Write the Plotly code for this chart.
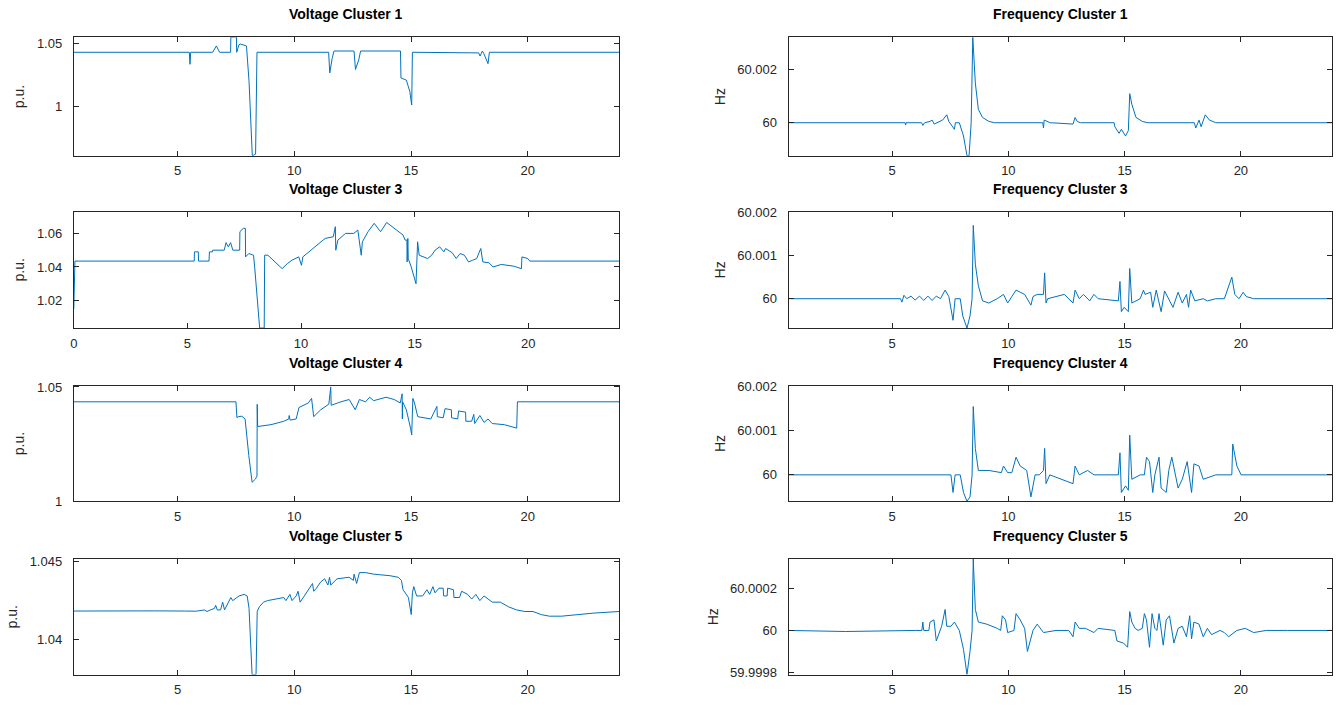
import plotly.graph_objects as go

# ---------------- data (time in hours, values) ----------------
v1_t = [0.55, 5.50, 5.53, 5.56, 6.50, 6.66, 6.80, 7.27, 7.28, 7.52, 7.53, 7.63, 7.70, 7.95, 8.06, 8.15, 8.20,
        8.34, 8.40, 11.47, 11.52, 11.62, 11.70, 12.56, 12.62, 12.76, 12.84, 14.55, 14.57, 14.80, 14.95,
        15.03, 15.06, 17.90, 17.96, 18.06, 18.12, 18.30, 18.36, 23.92]
v1_v = [1.043, 1.043, 1.0335, 1.043, 1.043, 1.048, 1.043, 1.043, 1.055, 1.055, 1.043, 1.049, 1.0495, 1.048,
        1.02, 0.975, 0.9612, 0.9625, 1.043, 1.043, 1.0267, 1.038, 1.044, 1.044, 1.0294, 1.037, 1.044, 1.044,
        1.0227, 1.021, 1.012, 1.0013, 1.043, 1.0425, 1.040, 1.044, 1.042, 1.034, 1.043, 1.043]

v3_t = [0.0, 0.05, 5.30, 5.31, 5.48, 5.49, 5.95, 5.97, 6.10, 6.11, 6.62, 6.70, 6.80, 6.90, 7.00, 7.30, 7.31,
        7.46, 7.55, 7.56, 7.70, 7.91, 7.96, 8.18, 8.38, 8.40, 8.54, 9.17, 9.40, 9.60, 9.90, 10.02, 10.08,
        10.34, 10.70, 11.06, 11.42, 11.51, 11.53, 11.62, 11.96, 12.32, 12.50, 12.65, 12.70, 12.95, 13.22,
        13.50, 13.77, 14.49, 14.58, 14.66, 14.67, 14.70, 14.72, 14.85, 15.06, 15.10, 15.13, 15.20, 15.39,
        15.57, 15.75, 15.90, 16.10, 16.29, 16.36, 16.65, 16.83, 17.00, 17.19, 17.37, 17.55, 17.73, 17.91,
        18.00, 18.27, 18.45, 18.81, 19.35, 19.70, 19.72, 19.98, 20.07, 24.0]
v3_v = [1.015, 1.0435, 1.0435, 1.049, 1.049, 1.0435, 1.0435, 1.049, 1.049, 1.050, 1.050, 1.0545, 1.052,
        1.0545, 1.050, 1.050, 1.061, 1.063, 1.063, 1.046, 1.048, 1.047, 1.040, 1.0036, 1.0036, 1.047, 1.047,
        1.039, 1.042, 1.044, 1.046, 1.041, 1.046, 1.049, 1.053, 1.057, 1.058, 1.064, 1.050, 1.056, 1.060,
        1.060, 1.062, 1.047, 1.055, 1.061, 1.066, 1.061, 1.0665, 1.059, 1.056, 1.056, 1.043, 1.057, 1.045,
        1.040, 1.030, 1.040, 1.055, 1.047, 1.046, 1.045, 1.047, 1.050, 1.052, 1.049, 1.051, 1.0485, 1.045,
        1.048, 1.047, 1.043, 1.044, 1.045, 1.051, 1.043, 1.0425, 1.040, 1.0415, 1.0405, 1.039, 1.046,
        1.045, 1.0435, 1.0435]

v4_t = [0.55, 7.50, 7.54, 7.60, 7.75, 7.89, 8.05, 8.19, 8.33, 8.40, 8.41, 8.43, 9.00, 9.55, 9.76, 9.78,
        9.82, 10.08, 10.20, 10.60, 10.74, 10.83, 11.13, 11.48, 11.56, 11.58, 12.00, 12.35, 12.44, 12.61,
        12.79, 13.05, 13.23, 13.40, 13.93, 14.28, 14.54, 14.62, 14.63, 14.64, 14.71, 14.80, 14.98, 15.03,
        15.08, 15.15, 15.29, 15.50, 15.85, 15.99, 16.11, 16.13, 16.38, 16.46, 16.73, 16.74, 17.00, 17.04,
        17.34, 17.35, 17.60, 17.69, 17.73, 17.95, 18.13, 18.30, 18.48, 19.00, 19.44, 19.53, 19.56, 23.92]
v4_v = [1.0435, 1.0435, 1.0366, 1.037, 1.0372, 1.036, 1.020, 1.0083, 1.0097, 1.0110, 1.0424, 1.0327,
        1.0335, 1.035, 1.036, 1.0375, 1.0355, 1.036, 1.041, 1.043, 1.045, 1.037, 1.040, 1.0425, 1.050,
        1.042, 1.0435, 1.0445, 1.043, 1.040, 1.0445, 1.0435, 1.0455, 1.044, 1.0455, 1.0445, 1.043, 1.047,
        1.036, 1.0435, 1.042, 1.040, 1.032, 1.029, 1.045, 1.043, 1.037, 1.0365, 1.036, 1.039, 1.0415,
        1.037, 1.0365, 1.0405, 1.040, 1.0365, 1.036, 1.0395, 1.039, 1.035, 1.035, 1.038, 1.034, 1.0375,
        1.0345, 1.036, 1.034, 1.0335, 1.0325, 1.032, 1.0435, 1.0435]

v5_t = [0.55, 2.0, 4.0, 5.3, 5.8, 6.14, 6.26, 6.40, 6.58, 6.63, 6.70, 6.84, 6.93, 7.01, 7.19, 7.28, 7.36,
        7.63, 7.85, 7.98, 8.06, 8.15, 8.19, 8.36, 8.41, 8.50, 8.68, 8.85, 9.20, 9.55, 9.64, 9.81, 9.90,
        10.08, 10.16, 10.25, 10.43, 10.78, 10.83, 10.95, 11.13, 11.30, 11.44, 11.51, 11.56, 11.83, 12.35,
        12.53, 12.56, 12.67, 12.79, 13.05, 13.40, 14.10, 14.45, 14.59, 14.66, 14.89, 15.01, 15.06, 15.12,
        15.24, 15.50, 15.68, 15.80, 15.94, 16.03, 16.20, 16.38, 16.40, 16.55, 16.57, 16.82, 16.84, 17.08,
        17.17, 17.43, 17.60, 17.78, 17.95, 18.13, 18.30, 18.48, 18.83, 19.18, 19.53, 19.88, 20.23, 20.58,
        20.93, 21.45, 22.15, 22.85, 23.92]
v5_v = [1.04183, 1.04185, 1.04184, 1.04183, 1.04182, 1.0419, 1.0418, 1.0419, 1.0420, 1.0422, 1.0419,
        1.0419, 1.0424, 1.0419, 1.0424, 1.0427, 1.0425, 1.0428, 1.0429, 1.0428, 1.0420, 1.0390, 1.03775,
        1.03775, 1.0418, 1.0421, 1.0424, 1.0425, 1.0426, 1.0427, 1.0425, 1.0429, 1.0425, 1.0428, 1.0431,
        1.0424, 1.0428, 1.0436, 1.0431, 1.0433, 1.0437, 1.0439, 1.0435, 1.0440, 1.0435, 1.0439, 1.0440,
        1.0438, 1.0442, 1.0436, 1.0443, 1.0443, 1.0442, 1.0441, 1.0440, 1.0438, 1.0432, 1.0427, 1.0416,
        1.0430, 1.0434, 1.0428, 1.0428, 1.0432, 1.0429, 1.0434, 1.0430, 1.0433, 1.0433, 1.0428, 1.0428,
        1.0433, 1.0432, 1.0427, 1.0427, 1.0431, 1.0429, 1.0426, 1.0429, 1.0425, 1.0428, 1.0426, 1.0424,
        1.0424, 1.0421, 1.0419, 1.0418, 1.0418, 1.0416, 1.0415, 1.0415, 1.0416, 1.0417, 1.0418]

f1_t = [0.55, 5.56, 5.58, 5.60, 6.27, 6.32, 6.40, 6.63, 6.72, 6.81, 7.17, 7.35, 7.44, 7.62, 7.68, 7.72,
        7.89, 8.07, 8.22, 8.31, 8.40, 8.47, 8.58, 8.71, 8.89, 9.16, 9.40, 11.48, 11.51, 11.54, 11.69, 11.80,
        12.78, 12.87, 12.96, 13.10, 14.55, 14.58, 14.76, 14.86, 15.04, 15.16, 15.22, 15.31, 15.49, 15.76,
        16.0, 18.00, 18.06, 18.20, 18.29, 18.47, 18.65, 18.92, 23.92]
f1_v = [60.0, 60.0, 59.99991, 60.0, 60.0, 59.9999, 60.0, 60.00005, 60.0001, 59.99995, 60.0001, 60.0003,
        60.00005, 59.9998, 59.99975, 60.0, 60.0, 59.9995, 59.99875, 59.99875, 60.0, 60.00323, 60.0015,
        60.0005, 60.0002, 60.00005, 60.0, 60.0, 59.9998, 60.0001, 60.00005, 60.0, 59.99995, 60.0002,
        60.00005, 60.0, 60.0, 59.99985, 59.9996, 59.99975, 59.9995, 59.9997, 60.0011, 60.0007, 60.0002,
        60.00005, 60.0, 60.0, 59.9998, 60.0001, 59.99985, 60.0003, 60.0001, 60.0, 60.0]

f3_t = [0.55, 5.36, 5.42, 5.51, 5.63, 5.81, 5.99, 6.18, 6.36, 6.54, 6.72, 6.90, 7.08, 7.28, 7.44, 7.62,
        7.71, 7.93, 8.04, 8.22, 8.35, 8.44, 8.49, 8.58, 8.71, 8.89, 9.16, 9.52, 9.79, 9.97, 10.15, 10.33,
        10.51, 10.70, 10.97, 11.06, 11.24, 11.51, 11.56, 11.62, 11.69, 12.05, 12.41, 12.78, 12.87, 13.05,
        13.23, 13.50, 13.68, 13.86, 14.58, 14.73, 14.80, 14.86, 14.98, 15.16, 15.22, 15.31, 15.49, 15.67,
        15.81, 15.88, 16.12, 16.21, 16.36, 16.48, 16.57, 16.72, 16.90, 17.08, 17.30, 17.48, 17.66, 17.75,
        17.84, 18.02, 18.38, 18.56, 18.92, 19.29, 19.61, 19.74, 19.92, 20.10, 20.23, 20.55, 23.92]
f3_v = [60.0, 60.0, 59.99992, 60.00008, 60.0, 60.00006, 59.99997, 60.00006, 59.99996, 60.00006, 59.99996,
        60.00006, 60.0, 60.0002, 60.00005, 59.9995, 60.0, 60.0, 59.9996, 59.99932, 59.9996, 60.0, 60.0017,
        60.0008, 60.0003, 59.99995, 59.9999, 60.0, 60.0001, 59.9999, 60.00005, 60.0002, 60.00015, 60.0001,
        59.99985, 60.00005, 60.0001, 60.0001, 60.0006, 59.9999, 60.0, 60.00005, 60.0001, 59.9999, 60.0002,
        60.0, 60.0001, 59.99995, 60.0001, 60.0, 59.99995, 59.99995, 60.0004, 59.9997, 59.9998, 59.9997,
        60.0007, 59.9999, 59.99995, 60.0, 60.0002, 60.0001, 60.00015, 59.9998, 60.0002, 59.99995, 59.9997,
        60.00018, 60.0, 59.9998, 60.00015, 59.9999, 60.0001, 59.9998, 60.0002, 59.99995, 60.0, 59.99995,
        60.0, 60.0, 60.0005, 60.0001, 60.0, 60.00015, 60.00005, 60.0, 60.0]

f4_t = [0.55, 7.53, 7.62, 7.71, 7.93, 8.07, 8.22, 8.35, 8.44, 8.49, 8.58, 8.71, 9.16, 9.70, 9.79, 9.97,
        10.15, 10.33, 10.51, 10.79, 10.97, 11.15, 11.33, 11.51, 11.56, 11.62, 11.78, 12.78, 12.87, 13.05,
        13.41, 13.68, 14.73, 14.80, 14.86, 15.04, 15.16, 15.22, 15.31, 15.67, 15.85, 15.94, 16.07, 16.21,
        16.30, 16.48, 16.57, 16.79, 16.90, 17.03, 17.30, 17.48, 17.69, 17.88, 17.98, 18.20, 18.38, 18.65,
        18.92, 19.61, 19.65, 19.83, 20.01, 23.92]
f4_v = [60.0, 60.0, 59.9996, 60.0, 60.0, 59.9996, 59.9994, 59.9995, 60.0, 60.00155, 60.0006, 60.0001,
        60.0001, 60.00005, 60.0002, 60.00005, 60.00005, 60.0004, 60.0002, 60.0001, 59.9995, 60.0, 60.0,
        60.0001, 60.0006, 59.9998, 60.0, 59.9998, 60.0002, 60.0, 60.0001, 60.0, 60.0, 60.0005, 59.9996,
        59.99975, 59.99965, 60.0009, 59.9999, 60.0, 60.0, 60.0004, 60.0003, 59.9996, 60.0, 60.0004, 59.9997,
        59.9996, 60.0001, 60.0004, 59.9997, 59.9999, 60.0003, 59.9996, 60.00025, 60.0002, 59.9999,
        59.99995, 60.0, 60.0, 60.0007, 60.0002, 60.0, 60.0]

f5_t = [0.55, 3.0, 6.0, 6.28, 6.32, 6.36, 6.58, 6.63, 6.80, 6.90, 7.13, 7.28, 7.35, 7.53, 7.68, 7.89, 8.07,
        8.22, 8.35, 8.44, 8.49, 8.58, 8.71, 9.07, 9.52, 9.67, 9.74, 9.88, 9.97, 10.24, 10.33, 10.51, 10.70,
        10.82, 11.06, 11.24, 11.51, 12.05, 12.60, 12.78, 12.87, 13.05, 13.32, 13.68, 13.86, 14.58, 14.67,
        14.95, 15.13, 15.22, 15.31, 15.45, 15.58, 15.76, 15.85, 15.94, 16.07, 16.18, 16.30, 16.39, 16.48,
        16.66, 16.79, 16.93, 17.12, 17.30, 17.48, 17.66, 17.80, 17.88, 17.98, 18.20, 18.38, 18.56, 18.74,
        19.10, 19.29, 19.47, 19.83, 20.19, 20.55, 21.09, 22.0, 23.92]
f5_v = [60.0, 59.999995, 60.0, 60.0, 60.00004, 60.0, 60.0, 60.00004, 60.00005, 59.99995, 60.00002,
        60.0001, 60.00002, 60.00002, 60.00004, 60.0, 59.99991, 59.99979, 59.9999, 60.0, 60.00034, 60.0001,
        60.00004, 60.00003, 60.00001, 60.0, 60.00007, 60.00005, 59.99999, 60.0, 60.00008, 60.00005,
        60.00001, 59.9999, 60.0, 60.00003, 59.99999, 60.0, 60.0, 59.99997, 60.00004, 60.00001, 60.00001,
        59.99999, 60.00001, 60.0, 59.99995, 59.99994, 59.99992, 60.00009, 60.00004, 60.00001, 60.0,
        60.00001, 60.00008, 60.00005, 59.99992, 60.00008, 60.00001, 60.0, 60.00008, 59.99993, 60.00005,
        60.00007, 59.99994, 60.00001, 60.00002, 59.99997, 60.00007, 59.99996, 60.00004, 60.00003,
        59.99997, 60.00001, 59.99998, 60.0, 59.99999, 59.99997, 60.0, 60.00001, 59.99999, 60.0, 60.0, 60.0]

titles = ["Voltage Cluster 1", "Frequency Cluster 1", "Voltage Cluster 3", "Frequency Cluster 3",
          "Voltage Cluster 4", "Frequency Cluster 4", "Voltage Cluster 5", "Frequency Cluster 5"]
y_titles = ["p.u.", "Hz", "p.u.", "Hz", "p.u.", "Hz", "p.u.", "Hz"]

x_ticks = [5, 10, 15, 20]
x_ticks_v3 = [0, 5, 10, 15, 20]
x_ranges = [[0.55, 23.92], [0.55, 23.92], [0, 24], [0.55, 23.92],
            [0.55, 23.92], [0.55, 23.92], [0.55, 23.92], [0.55, 23.92]]

y_ranges = [[0.9612, 1.0548], [59.99875, 60.00323], [1.0036, 1.073], [59.99932, 60.00202],
            [1.0, 1.0505], [59.9994, 60.00202], [1.03775, 1.04517], [59.99979, 60.00034]]
y_tickvals = [[1, 1.05], [60, 60.002], [1.02, 1.04, 1.06], [60, 60.001, 60.002],
              [1, 1.05], [60, 60.001, 60.002], [1.04, 1.045], [59.9998, 60, 60.0002]]
y_ticktext = [["1", "1.05"], ["60", "60.002"], ["1.02", "1.04", "1.06"], ["60", "60.001", "60.002"],
              ["1", "1.05"], ["60", "60.001", "60.002"], ["1.04", "1.045"], ["59.9998", "60", "60.0002"]]

series = [(v1_t, v1_v), (f1_t, f1_v), (v3_t, v3_v), (f3_t, f3_v),
          (v4_t, v4_v), (f4_t, f4_v), (v5_t, v5_v), (f5_t, f5_v)]

# ---------------- layout geometry (pixels) ----------------
W, H = 1336, 708
col_px = [(70, 617), (787, 1332)]
row_px = [(31, 152), (209, 328), (387, 505), (564, 682)]

LINE = "#0072BD"
AX = "#262626"
FONT = "Liberation Sans, Arial, Helvetica, sans-serif"

fig = go.Figure()
annotations = []
for i, (t, v) in enumerate(series):
    r, c = divmod(i, 2)
    n = i + 1
    xa = "x" if n == 1 else f"x{n}"
    ya = "y" if n == 1 else f"y{n}"
    fig.add_trace(go.Scatter(x=t, y=v, mode="lines", line=dict(color=LINE, width=1),
                             xaxis=xa, yaxis=ya, showlegend=False, hoverinfo="x+y"))
    x0, x1 = col_px[c]
    top, bot = row_px[r]
    xd = [x0 / W, x1 / W]
    yd = [1 - bot / H, 1 - top / H]
    xt = x_ticks_v3 if i == 2 else x_ticks
    fig.layout[("xaxis" if n == 1 else f"xaxis{n}")] = dict(
        domain=xd, anchor=ya, range=x_ranges[i], tickvals=xt, ticktext=[str(k) for k in xt],
        ticks="inside", ticklen=5, tickwidth=1, tickcolor=AX, showline=True, linecolor=AX, linewidth=1,
        mirror="ticks", showgrid=False, zeroline=False, ticklabelstandoff=3,
        tickfont=dict(family=FONT, size=13, color=AX))
    fig.layout[("yaxis" if n == 1 else f"yaxis{n}")] = dict(
        domain=yd, anchor=xa, range=y_ranges[i], tickvals=y_tickvals[i], ticktext=y_ticktext[i],
        ticks="inside", ticklen=5, tickwidth=1, tickcolor=AX, showline=True, linecolor=AX, linewidth=1,
        mirror="ticks", showgrid=False, zeroline=False, ticklabelstandoff=8,
        tickfont=dict(family=FONT, size=13, color=AX),
        title=dict(text=y_titles[i], font=dict(family=FONT, size=14, color=AX), standoff=8))
    annotations.append(dict(text=f"<b>{titles[i]}</b>", x=(xd[0] + xd[1]) / 2, y=yd[1], xref="paper",
                            yref="paper", xanchor="center", yanchor="middle", yshift=23, showarrow=False,
                            font=dict(family=FONT, size=14, color="#000000")))

fig.update_layout(width=W, height=H, margin=dict(l=0, r=0, t=0, b=0), paper_bgcolor="white",
                  plot_bgcolor="white", annotations=annotations, showlegend=False)
fig.write_html("out.html")
